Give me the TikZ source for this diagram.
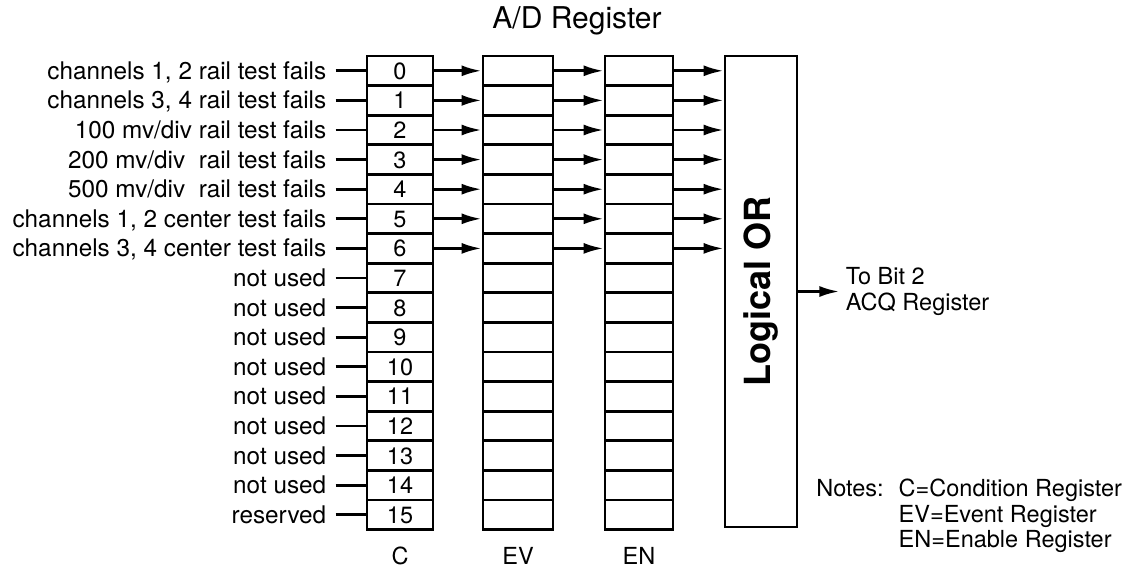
\documentclass[tikz,border=0pt]{standalone}
\usepackage{fontspec}
\setmainfont{TeX Gyre Heros}
\usetikzlibrary{arrows.meta,positioning}
\tikzset{
  txt/.style={font=\fontsize{23.5}{25.5}\selectfont, inner sep=0pt},
  lbl/.style={txt, font=\fontsize{24.3}{25.5}\selectfont, inner xsep=8pt, text height=16.8pt, text depth=0pt},
  cell/.style={draw, rectangle, minimum height=29.6pt, inner sep=0pt, text height=16.8pt, text depth=0pt, font=\fontsize{23.5}{25}\selectfont},
  arr/.style={-{Latex[length=20pt,width=11pt]}},
}

\begin{document}
\begin{tikzpicture}[x=1pt, y=-1pt, line width=2.8pt]
    \useasboundingbox (0,0) rectangle (1130,568);
    \node[txt] (title) at (577,21) {\fontsize{30}{31}\selectfont A/D Register};

    % C, EV and EN registers
    \foreach \i in {0,...,15}{
      \node[cell, minimum width=66pt] (c\i) at (400, 70.8+29.6*\i) {\i};
      \node[cell, minimum width=70pt] (ev\i) at (518, 70.8+29.6*\i) {};
      \node[cell, minimum width=68pt] (en\i) at (639, 70.8+29.6*\i) {};
    }
    \node[txt, below=15pt of c15] (cname) {C};
    \node[txt, below=15pt of ev15] (evname) {EV};
    \node[txt, below=15pt of en15] (enname) {EN};

    \node[draw, minimum width=72pt, minimum height=471pt, inner sep=0pt] (orbox) at (761,291.5)
      {\rotatebox{90}{\fontsize{36}{36}\selectfont\bfseries Logical OR}};

    % bit sources
    \node[lbl, left=30pt of c0] (l0) {channels 1, 2 rail test fails};
    \node[lbl, left=30pt of c1] (l1) {channels 3, 4 rail test fails};
    \node[lbl, left=30pt of c2] (l2) {100 mv/div rail test fails};
    \node[lbl, left=30pt of c3] (l3) {200 mv/div~ rail test fails};
    \node[lbl, left=30pt of c4] (l4) {500 mv/div~ rail test fails};
    \node[lbl, left=30pt of c5] (l5) {channels 1, 2 center test fails};
    \node[lbl, left=30pt of c6] (l6) {channels 3, 4 center test fails};
    \node[lbl, left=30pt of c7] (l7) {not used};
    \node[lbl, left=30pt of c8] (l8) {not used};
    \node[lbl, left=30pt of c9] (l9) {not used};
    \node[lbl, left=30pt of c10] (l10) {not used};
    \node[lbl, left=30pt of c11] (l11) {not used};
    \node[lbl, left=30pt of c12] (l12) {not used};
    \node[lbl, left=30pt of c13] (l13) {not used};
    \node[lbl, left=30pt of c14] (l14) {not used};
    \node[lbl, left=30pt of c15] (l15) {reserved};

    \foreach \i in {0,...,15} \draw (l\i.east) -- (c\i.west);
    \foreach \i in {0,...,6}{
      \draw[arr] (c\i.east) -- (ev\i.west);
      \draw[arr] (ev\i.east) -- (en\i.west);
      \draw[arr] (en\i.east) -- (en\i.east -| orbox.west);
    }

    % output and notes
    \node[txt, inner sep=5pt, align=left, right=41pt of orbox] (acq) {To Bit 2\\ACQ Register};
    \draw[arr] (orbox.east) -- (acq.west);
    \node[txt, anchor=west] (notes) at (815,517) {\begin{tabular}{@{}l@{\hspace{15pt}}l@{}}
      Notes: & C=Condition Register\\ & EV=Event Register\\ & EN=Enable Register\end{tabular}};
\end{tikzpicture}
\end{document}
